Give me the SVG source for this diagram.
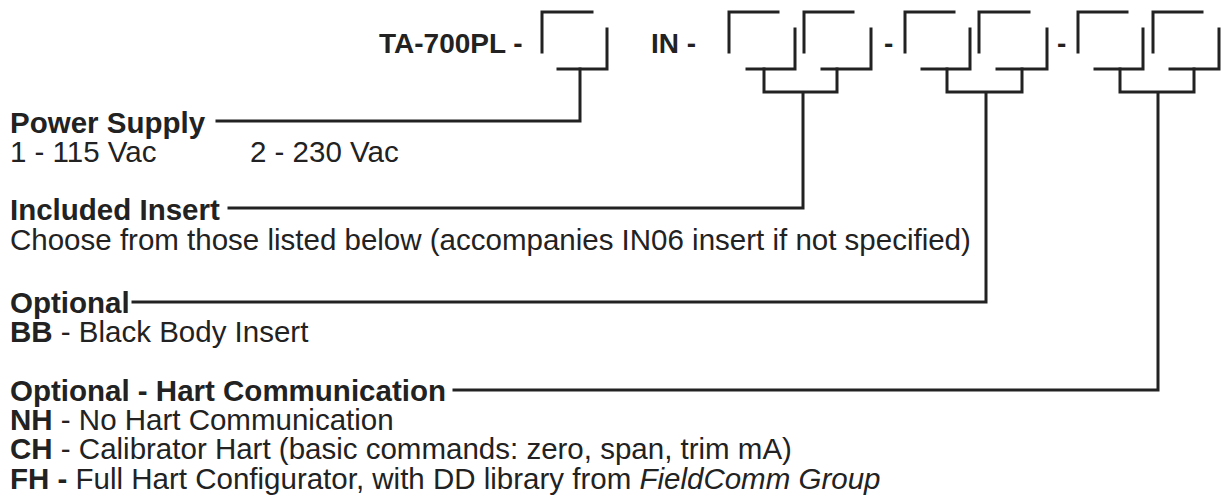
<svg xmlns="http://www.w3.org/2000/svg" width="1224" height="504" viewBox="0 0 1224 504">
<style>
.t{font-family:"Liberation Sans",Arial,sans-serif;font-size:29.5px;fill:#222}
.h{font-size:28px}
.b{font-weight:bold}
.i{font-style:italic}
.ln{fill:none;stroke:#222;stroke-width:3;stroke-linecap:square;stroke-linejoin:miter}
</style>
<rect width="1224" height="504" fill="#fff"/>
<g id="code">
<text class="t h b" x="379" y="53">TA-700PL -</text>
<text class="t h b" x="651" y="53">IN -</text>
<text class="t h b" x="884" y="53">-</text>
<text class="t h b" x="1057" y="53">-</text>
<path class="ln" d="M542,52 V12 H592 M558,69 H607 V29"/>
<path class="ln" d="M729,52 V12 H778 M747,69 H795 V29"/>
<path class="ln" d="M804,52 V12 H853 M822,69 H871 V29"/>
<path class="ln" d="M905,52 V12 H954 M922,69 H970 V29"/>
<path class="ln" d="M979,52 V12 H1029 M997,69 H1047 V29"/>
<path class="ln" d="M1078,52 V12 H1127 M1095,69 H1143 V29"/>
<path class="ln" d="M1153,52 V12 H1202 M1170,69 H1219 V29"/>
</g>
<g id="connectors">
<path class="ln" d="M580,69 V121 H217"/>
<path class="ln" d="M764,69 V92 H837 V69 M803,92 V208 H229"/>
<path class="ln" d="M947,69 V92 H1022 V69 M986,92 V302 H133"/>
<path class="ln" d="M1120,69 V92 H1194 V69 M1158,92 V390 H454"/>
</g>
<g id="power">
<text class="t b" x="10" y="133">Power Supply</text>
<text class="t" x="10" y="162">1 - 115 Vac</text>
<text class="t" x="250" y="162">2 - 230 Vac</text>
</g>
<g id="insert">
<text class="t b" x="10" y="220">Included Insert</text>
<text class="t" x="10" y="250">Choose from those listed below (accompanies IN06 insert if not specified)</text>
</g>
<g id="optional">
<text class="t b" x="10" y="313">Optional</text>
<text class="t" x="10" y="342"><tspan class="b">BB</tspan> - Black Body Insert</text>
</g>
<g id="hart">
<text class="t b" x="10" y="401">Optional - Hart Communication</text>
<text class="t" x="10" y="430"><tspan class="b">NH</tspan> - No Hart Communication</text>
<text class="t" x="10" y="459"><tspan class="b">CH</tspan> - Calibrator Hart (basic commands: zero, span, trim mA)</text>
<text class="t" x="10" y="489"><tspan class="b">FH -</tspan> Full Hart Configurator, with DD library from <tspan class="i">FieldComm Group</tspan></text>
</g>
</svg>
